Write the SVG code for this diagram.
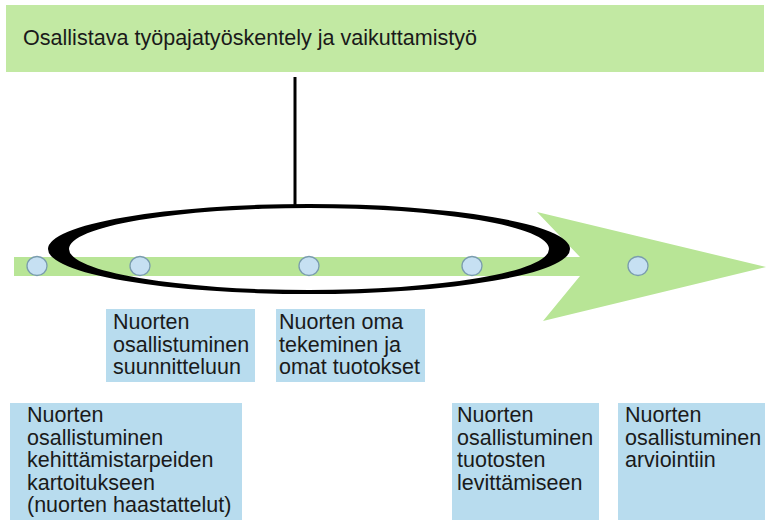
<svg xmlns="http://www.w3.org/2000/svg" width="768" height="520" viewBox="0 0 768 520">
<style>
.txt{font-family:"Liberation Sans",Arial,sans-serif;font-size:21.5px;fill:#1a1a1a}
.box{fill:#b8dcee}
.dot{fill:#c6e0f2;stroke:#7a9cae;stroke-width:1.3}
</style>
<rect width="768" height="520" fill="#ffffff"/>
<g id="header">
<rect x="6" y="5" width="758" height="67" fill="#c2e9a3"/>
<text class="txt" x="23" y="45" textLength="454" lengthAdjust="spacingAndGlyphs">Osallistava työpajatyöskentely ja vaikuttamistyö</text>
</g>
<g id="timeline">
<rect x="14" y="257" width="568" height="19" fill="#b8e596"/>
<polygon points="537,212 766,267 543,321 580,276 580,257" fill="#b8e596"/>
</g>
<g id="connectors">
<line x1="295" y1="77" x2="295" y2="205" stroke="#000" stroke-width="3"/>
</g>
<g id="ring">
<path fill="#000" fill-rule="evenodd" d="M48,249 a261,45 0 1,0 522,0 a261,45 0 1,0 -522,0 Z M69,249 a240,41 0 1,0 480,0 a240,41 0 1,0 -480,0 Z"/>
</g>
<g id="dots">
<ellipse class="dot" cx="37" cy="266" rx="10" ry="9.5"/>
<ellipse class="dot" cx="140" cy="266" rx="10" ry="9.5"/>
<ellipse class="dot" cx="309" cy="266" rx="10" ry="9.5"/>
<ellipse class="dot" cx="472" cy="266" rx="10" ry="9.5"/>
<ellipse class="dot" cx="638" cy="266" rx="10" ry="9.5"/>
</g>
<g id="box1">
<rect class="box" x="106" y="309" width="149" height="73"/>
<text class="txt" x="113"><tspan x="113" y="329">Nuorten</tspan><tspan x="113" y="351.5">osallistuminen</tspan><tspan x="113" y="374">suunnitteluun</tspan></text>
</g>
<g id="box2">
<rect class="box" x="276" y="309" width="149" height="73"/>
<text class="txt" x="279"><tspan x="279" y="329">Nuorten oma</tspan><tspan x="279" y="351.5">tekeminen ja</tspan><tspan x="279" y="374">omat tuotokset</tspan></text>
</g>
<g id="box3">
<rect class="box" x="10" y="403" width="232" height="117"/>
<text class="txt"><tspan x="27" y="422">Nuorten</tspan><tspan x="27" y="444.5">osallistuminen</tspan><tspan x="27" y="467">kehittämistarpeiden</tspan><tspan x="27" y="489.5">kartoitukseen</tspan><tspan x="27" y="512">(nuorten haastattelut)</tspan></text>
</g>
<g id="box4">
<rect class="box" x="452" y="403" width="147" height="117"/>
<text class="txt"><tspan x="457" y="422">Nuorten</tspan><tspan x="457" y="444.5">osallistuminen</tspan><tspan x="457" y="467">tuotosten</tspan><tspan x="457" y="489.5">levittämiseen</tspan></text>
</g>
<g id="box5">
<rect class="box" x="618" y="403" width="147" height="117"/>
<text class="txt"><tspan x="625" y="422">Nuorten</tspan><tspan x="625" y="444.5">osallistuminen</tspan><tspan x="625" y="467">arviointiin</tspan></text>
</g>
</svg>
